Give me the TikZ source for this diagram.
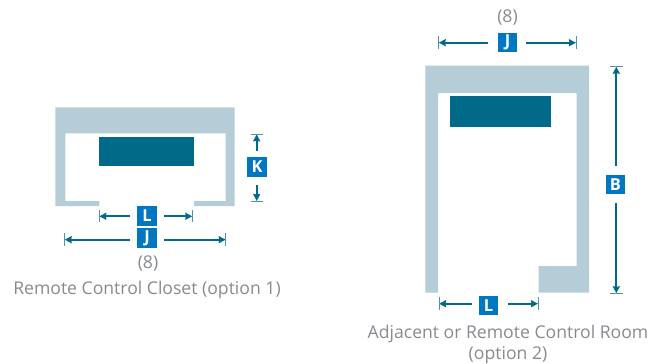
\documentclass[tikz,border=0pt]{standalone}
\usepackage{fontspec}
\setmainfont{Open Sans}
\usetikzlibrary{arrows.meta}
\definecolor{wall}{HTML}{B4CDD6}
\definecolor{desk}{HTML}{006A88}
\definecolor{tag}{HTML}{0078C1}
\definecolor{cap}{HTML}{868B90}
\definecolor{tick}{HTML}{4E95A8}
\tikzset{
  x=1pt,y=-1pt,
  wallfill/.style={fill=wall,draw=none},
  deskfill/.style={fill=desk,draw=none},
  tagbox/.style={fill=tag,text=white,font=\fontsize{16.5}{17}\selectfont\bfseries,minimum size=19.5pt,inner sep=0pt,anchor=center},
  dimline/.style={draw=desk,line width=1.7pt,-{Stealth[length=7pt,width=7pt,inset=0.5pt]}},
  tickline/.style={draw=tick,line width=1pt},
  captext/.style={text=cap,font=\fontsize{17.6}{21}\selectfont,inner sep=0pt,align=center},
}
\begin{document}
\begin{tikzpicture}
\useasboundingbox (0,0) rectangle (651,364);
% closet
\fill[wallfill] (55.3,107.3) -- (234.7,107.3) -- (234.7,206) -- (194,206) -- (194,201) -- (225.7,201) -- (225.7,133.3) -- (65.3,133.3) -- (65.3,201) -- (99.3,201) -- (99.3,206) -- (55.3,206) -- cycle;
\fill[deskfill] (99,137) rectangle (194,166);
% room
\fill[wallfill] (425.3,65.7) -- (589,65.7) -- (589,292.7) -- (538.7,292.7) -- (538.7,266) -- (576.7,266) -- (576.7,93) -- (438,93) -- (438,292.7) -- (425.3,292.7) -- cycle;
\fill[deskfill] (450,96) rectangle (551,127);
% tags
\node[tagbox] (L1) at (147,216) {L};
\node[tagbox] (J1) at (147,238) {J};
\node[tagbox] (K1) at (257,167) {K};
\node[tagbox] (J2) at (507.5,42.5) {J};
\node[tagbox] (B2) at (615.5,184.5) {B};
\node[tagbox] (L2) at (488.5,305.5) {L};
% end coordinates
\coordinate (L1a) at (99.3,216.3); \coordinate (L1b) at (192.3,216.3);
\coordinate (J1a) at (64.7,239.7); \coordinate (J1b) at (225.7,239.7);
\coordinate (K1a) at (256.7,134.3); \coordinate (K1b) at (256.7,201);
\coordinate (J2a) at (438.7,42.7); \coordinate (J2b) at (576,42.7);
\coordinate (B2a) at (616.3,66.7); \coordinate (B2b) at (616.3,293.3);
\coordinate (L2a) at (439,303.7); \coordinate (L2b) at (538,303.7);
% dimension lines
\draw[dimline] (130,216.3) -- (L1a);
\draw[dimline] (164,216.3) -- (L1b);
\draw[dimline] (130,239.7) -- (J1a);
\draw[dimline] (164,239.7) -- (J1b);
\draw[dimline] (256.7,151) -- (K1a);
\draw[dimline] (256.7,185) -- (K1b);
\draw[dimline] (488.3,42.7) -- (J2a);
\draw[dimline] (526,42.7) -- (J2b);
\draw[dimline] (616.3,165.7) -- (B2a);
\draw[dimline] (616.3,203) -- (B2b);
\draw[dimline] (471.7,303.7) -- (L2a);
\draw[dimline] (508,303.7) -- (L2b);
% ticks
\draw[tickline] (99.3,210) -- (99.3,222.3);
\draw[tickline] (192.3,210) -- (192.3,222.3);
\draw[tickline] (64.7,233.3) -- (64.7,245.7);
\draw[tickline] (225.7,233.3) -- (225.7,245.7);
\draw[tickline] (250.7,134.3) -- (263,134.3);
\draw[tickline] (250.7,201) -- (263,201);
\draw[tickline] (438.7,36) -- (438.7,49);
\draw[tickline] (576,36) -- (576,49);
\draw[tickline] (610,66.7) -- (622.7,66.7);
\draw[tickline] (610,293.3) -- (622.7,293.3);
\draw[tickline] (439,297) -- (439,310);
\draw[tickline] (538,297) -- (538,310);
% captions
\node[captext] (n1) at (148,264) {(8)};
\node[captext] (c1) at (147,289.5) {Remote Control Closet (option 1)};
\node[captext] (n2) at (507.5,18) {(8)};
\node[captext] (c2) at (508,344) {Adjacent or Remote Control Room\\(option 2)};
\end{tikzpicture}
\end{document}
